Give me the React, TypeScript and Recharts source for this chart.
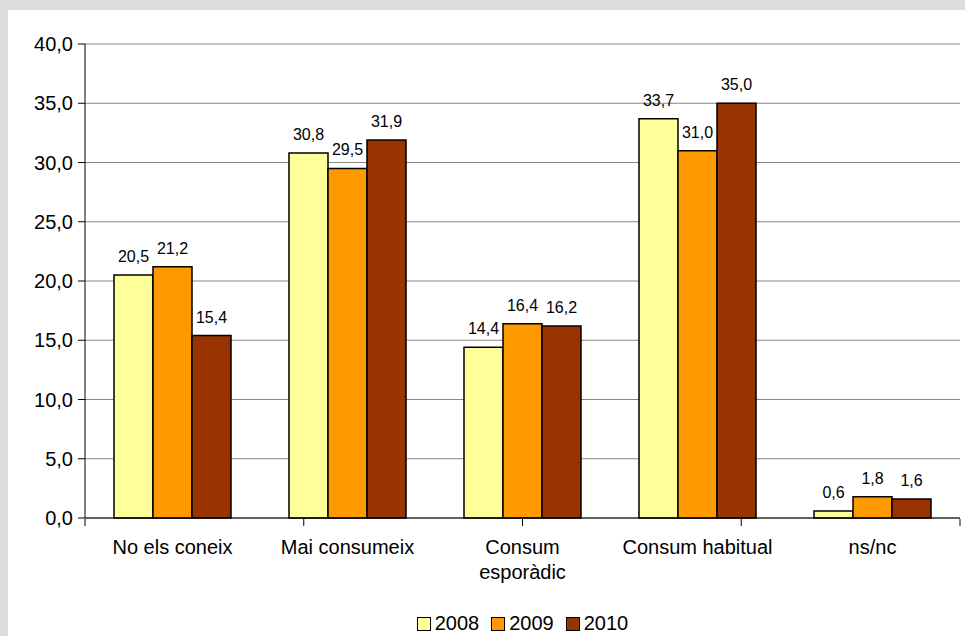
import { Bar, BarChart, CartesianGrid, LabelList, Legend, ReferenceLine, Text, XAxis, YAxis } from 'recharts';

const categories = ['No els coneix', 'Mai consumeix', 'Consum esporàdic', 'Consum habitual', 'ns/nc'];
const values2008 = [20.5, 30.8, 14.4, 33.7, 0.6];
const values2009 = [21.2, 29.5, 16.4, 31.0, 1.8];
const values2010 = [15.4, 31.9, 16.2, 35.0, 1.6];
const yTicks = [0, 5, 10, 15, 20, 25, 30, 35, 40];
const edgeTicks = [0, 1, 2, 3, 4, 5];

const FONT = '"Liberation Sans", Arial, sans-serif';

const data = categories.map((name, i) => ({
  name,
  y2008: values2008[i],
  y2009: values2009[i],
  y2010: values2010[i],
}));

const fmt = (v: number) => v.toFixed(1).replace('.', ',');

function CategoryTick({ x, y, payload }: any) {
  return (
    <Text
      x={x}
      y={y}
      width={160}
      textAnchor="middle"
      verticalAnchor="start"
      lineHeight={25}
      fill="#000"
      style={{ fontSize: '20px', fontFamily: FONT }}
    >
      {payload.value}
    </Text>
  );
}

function EmptyTick() {
  return <g />;
}

function LegendContent({ payload }: any) {
  return (
    <div style={{ display: 'flex', justifyContent: 'center', alignItems: 'center', fontFamily: FONT, fontSize: 20, color: '#000' }}>
      {(payload || []).map((p: any, i: number) => (
        <div key={i} style={{ display: 'flex', alignItems: 'center', marginLeft: i ? 12 : 0 }}>
          <span style={{ width: 12, height: 12, background: p.color, border: '1.5px solid #000', marginRight: 4, display: 'inline-block' }} />
          <span>{p.value}</span>
        </div>
      ))}
    </div>
  );
}

export default function App() {
  return (
    <div style={{ position: 'absolute', left: 0, top: 0, width: 965, height: 636, background: '#dddddd' }}>
      <div style={{ position: 'absolute', left: 8, top: 10, right: 0, bottom: 0, background: '#fff' }} />
      <div style={{ position: 'absolute', left: 0, top: 0 }}>
        <BarChart
          width={965}
          height={636}
          data={data}
          margin={{ top: 44, right: 5, left: 0, bottom: 0 }}
          barCategoryGap={29}
          barGap={0}
          style={{ fontFamily: FONT }}
        >
          <CartesianGrid horizontal vertical={false} stroke="#868686" />
          <XAxis
            xAxisId="edge"
            type="number"
            domain={[0, 5]}
            ticks={edgeTicks}
            interval={0}
            height={117}
            tickSize={7}
            tick={<EmptyTick />}
            axisLine={false}
            tickLine={{ stroke: '#000' }}
          />
          <XAxis
            dataKey="name"
            height={1}
            interval={0}
            axisLine={{ stroke: '#000' }}
            tickLine={false}
            tickSize={0}
            tickMargin={22}
            tick={<CategoryTick />}
          />
          <YAxis
            domain={[0, 40]}
            ticks={yTicks}
            interval={0}
            width={85}
            tickSize={7}
            tickMargin={5}
            tickFormatter={fmt}
            tick={{ fill: '#000', fontSize: 20, fontFamily: FONT }}
            axisLine={{ stroke: '#000' }}
            tickLine={{ stroke: '#000' }}
          />
          <ReferenceLine xAxisId="edge" x={5} stroke="#868686" strokeWidth={2} />
          <Legend
            layout="horizontal"
            verticalAlign="middle"
            align="center"
            content={<LegendContent />}
            wrapperStyle={{ top: 612, left: 85, width: 875, height: 24 }}
          />
          <Bar dataKey="y2008" name="2008" fill="#FFFF99" stroke="#000" strokeWidth={1.5} isAnimationActive={false}>
            <LabelList dataKey="y2008" position="top" offset={13} formatter={fmt} fill="#000" fontSize={16} fontFamily={FONT} />
          </Bar>
          <Bar dataKey="y2009" name="2009" fill="#FF9900" stroke="#000" strokeWidth={1.5} isAnimationActive={false}>
            <LabelList dataKey="y2009" position="top" offset={13} formatter={fmt} fill="#000" fontSize={16} fontFamily={FONT} />
          </Bar>
          <Bar dataKey="y2010" name="2010" fill="#993300" stroke="#000" strokeWidth={1.5} isAnimationActive={false}>
            <LabelList dataKey="y2010" position="top" offset={13} formatter={fmt} fill="#000" fontSize={16} fontFamily={FONT} />
          </Bar>
        </BarChart>
      </div>
    </div>
  );
}
